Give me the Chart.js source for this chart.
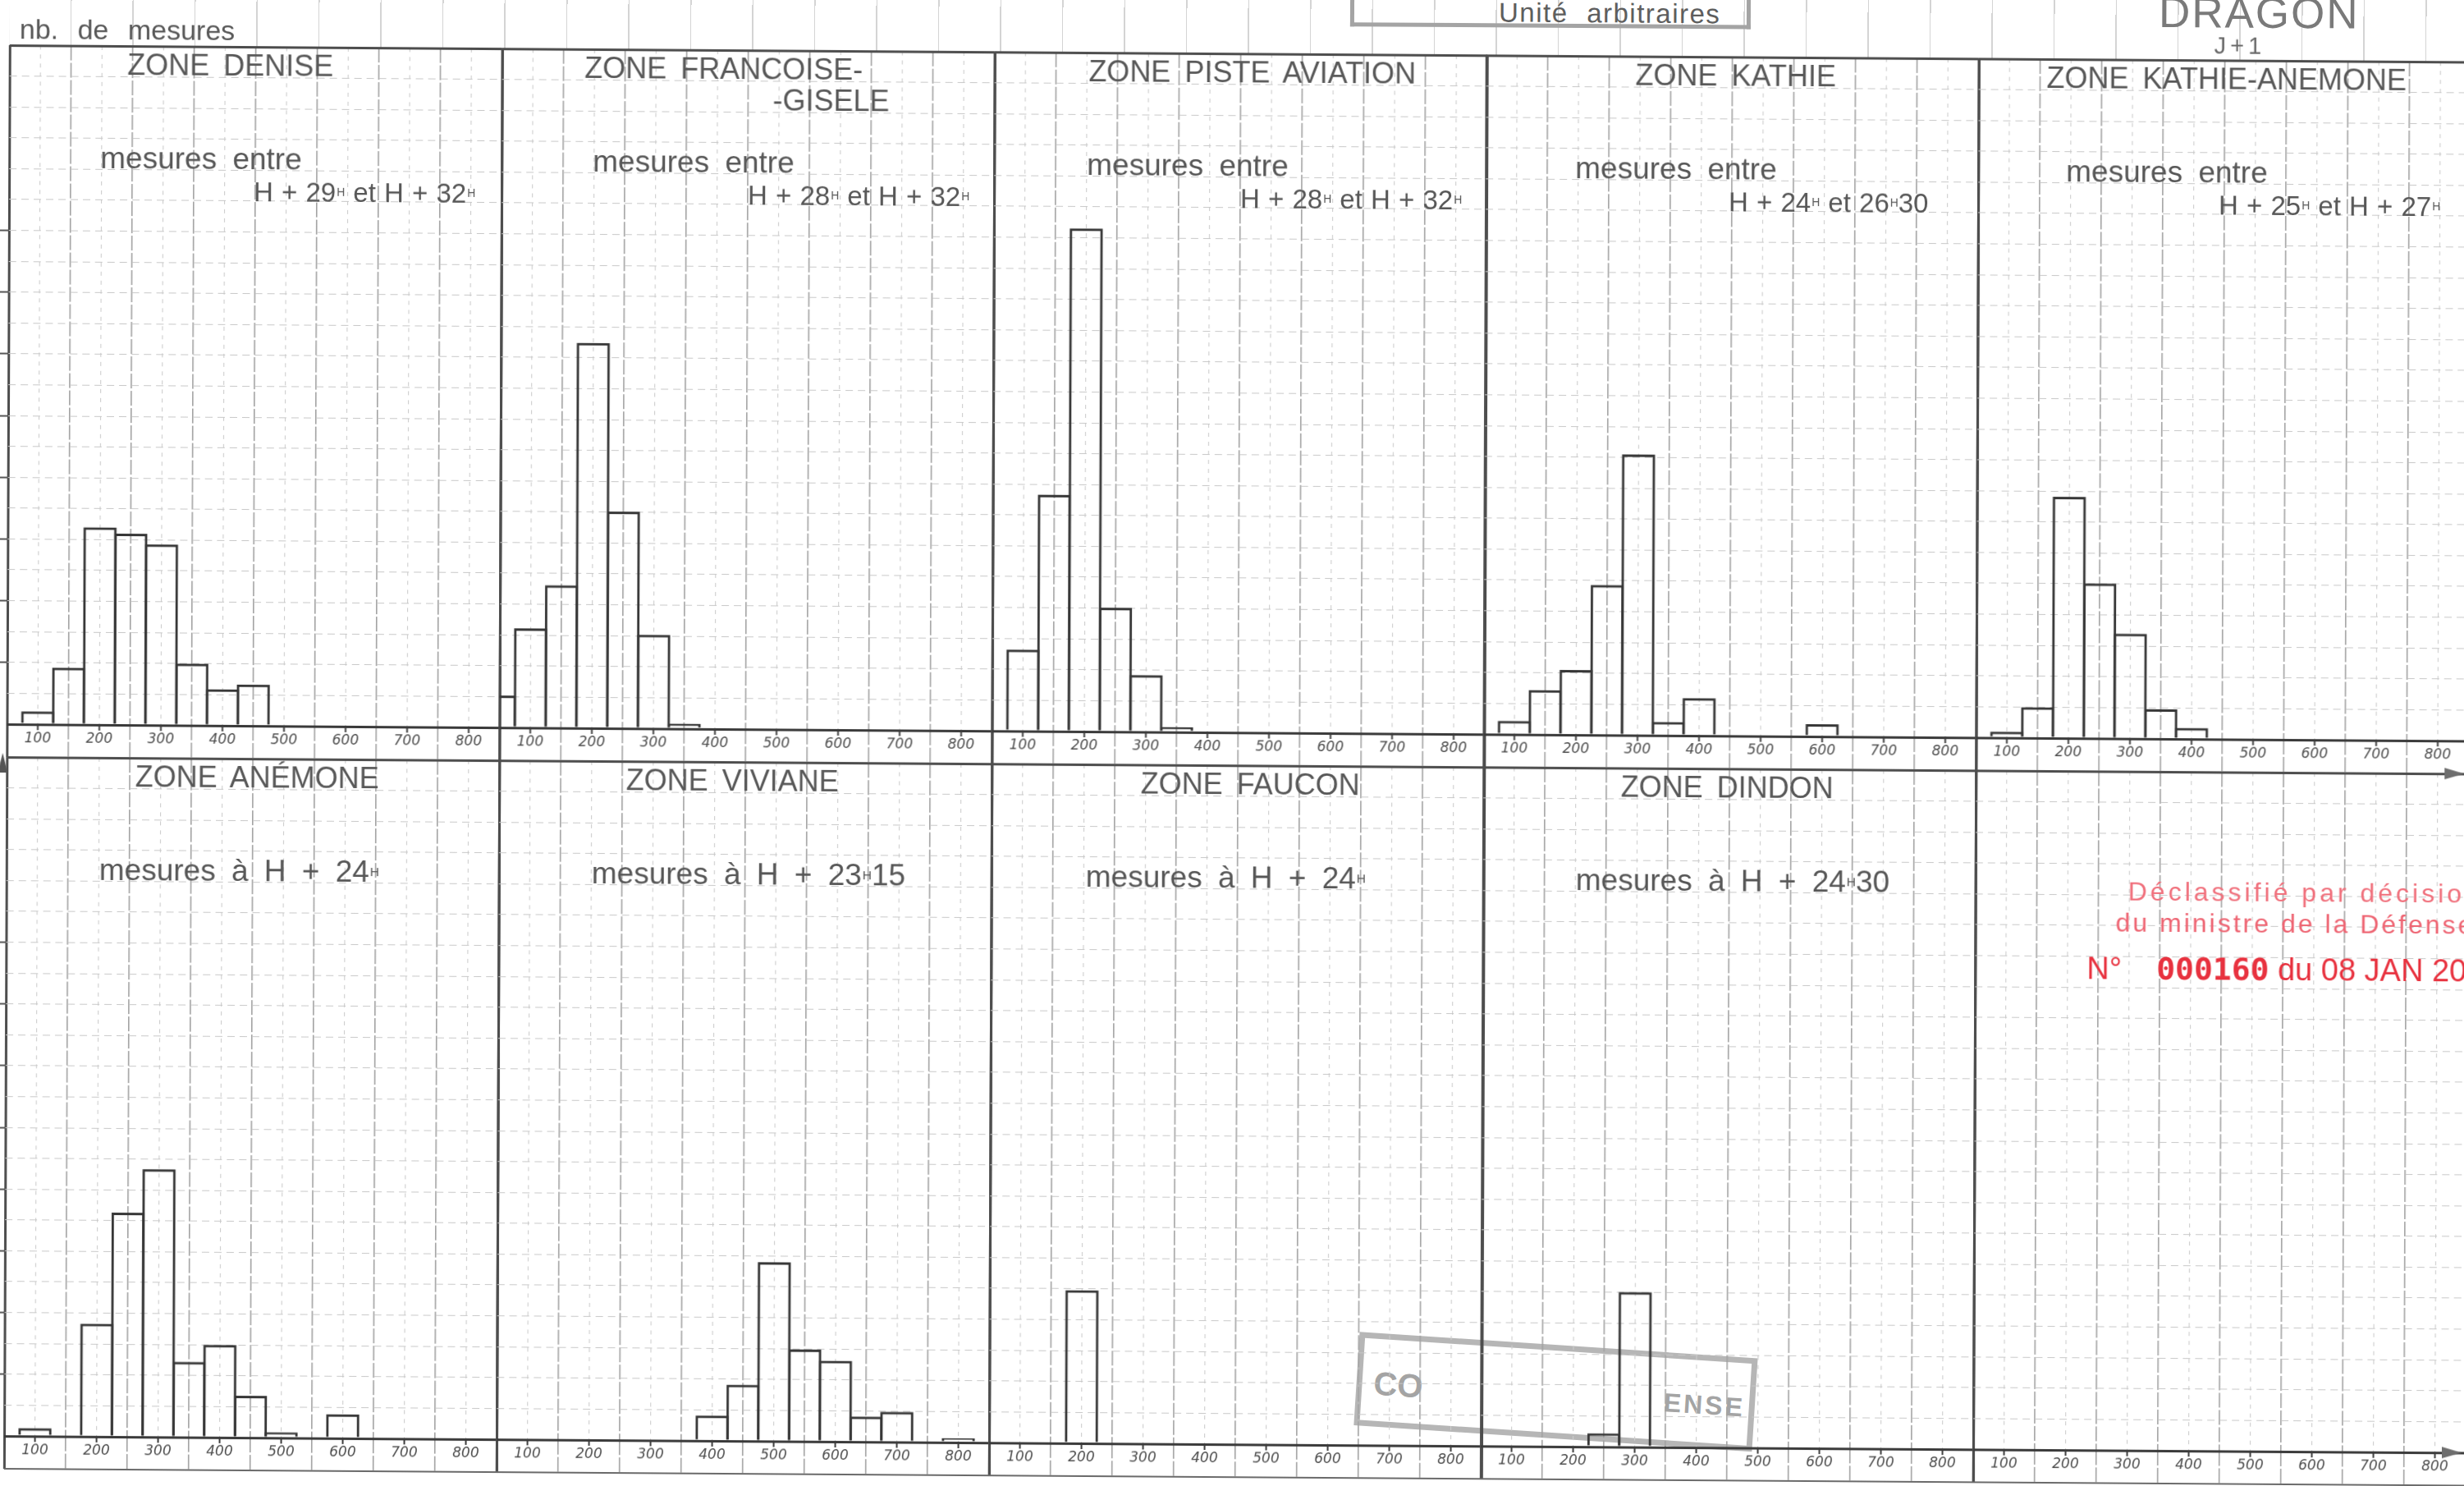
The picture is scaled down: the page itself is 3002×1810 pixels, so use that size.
<!DOCTYPE html>
<html lang="fr">
<head>
<meta charset="utf-8">
<title>DRAGON J+1 – nb. de mesures par zone</title>
<script src="https://cdn.jsdelivr.net/npm/chart.js@4.4.1/dist/chart.umd.min.js"></script>
<style>
html, body { margin:0; padding:0; background:#fff; }
body { width:3002px; height:1810px; overflow:hidden; position:relative; }
#page { position:absolute; left:0; top:0; width:3002px; height:1810px; transform-origin:0 0; transform:matrix(1,0.0068,-0.004,1,0,0); }
.t { position:absolute; white-space:nowrap; font-family:"Liberation Sans", Arial, sans-serif; color:#555; }
canvas { position:absolute; }
.title { font-size:36px; line-height:36px; color:#585858; word-spacing:7px; transform:translateX(-50%); }
.sub1 { font-size:37px; line-height:37px; color:#575757; word-spacing:9px; }
.sub2 { font-size:33px; line-height:33px; color:#575757; word-spacing:1px; }
sup.h { font-size:0.42em; vertical-align:top; margin-left:1px; }
.hdr { font-size:34px; line-height:34px; color:#585858; word-spacing:14px; }
.unit { font-size:33px; line-height:33px; color:#5e5e5e; word-spacing:12px; letter-spacing:1.5px; }
.dragon { font-size:53px; line-height:53px; color:#7a7a7a; letter-spacing:2px; }
.jplus { font-size:29px; line-height:29px; color:#6a6a6a; letter-spacing:5px; transform:translateX(-50%); }
.red1 { font-size:32px; line-height:32px; color:#f0707c; letter-spacing:4px; }
.red2 { font-size:32px; line-height:32px; color:#ee6472; letter-spacing:3px; }
.red3 { font-size:38px; line-height:38px; color:#e8323f; }
.red3 b { font-family:"DejaVu Sans Mono", monospace; font-weight:bold; letter-spacing:0px; font-size:38px; }
.stampTxt { font-weight:bold; color:#a4a4a4; }
</style>
</head>
<body>
<div id="page"></div>
<script>
// ---------------- DATA ----------------
// bin centres (unités arbitraires), histogram bins are 50 wide
const binCenters = [50, 100, 150, 200, 250, 300, 350, 400, 450, 500, 550, 600, 650, 700, 750, 800];
// x tick labels
const xTickValues = [100, 200, 300, 400, 500, 600, 700, 800];
const xTickLabels = ["100", "200", "300", "400", "500", "600", "700", "800"];

// zone titles (categories)
const zoneTitles  = ["ZONE DENISE", "ZONE FRANCOISE-", "ZONE PISTE AVIATION", "ZONE KATHIE", "ZONE KATHIE-ANEMONE",
                     "ZONE ANÉMONE", "ZONE VIVIANE", "ZONE FAUCON", "ZONE DINDON", ""];
const zoneTitles2 = ["", "-GISELE", "", "", "", "", "", "", "", ""];
// measurement time texts (^ = superscript H)
const periodLine1 = ["mesures entre", "mesures entre", "mesures entre", "mesures entre", "mesures entre",
                     "mesures à H + 24^", "mesures à H + 23^15", "mesures à H + 24^", "mesures à H + 24^30", ""];
const periodLine2 = ["H + 29^ et H + 32^", "H + 28^ et H + 32^", "H + 28^ et H + 32^", "H + 24^ et 26^30", "H + 25^ et H + 27^",
                     "", "", "", "", ""];

// nb. de mesures per bin (one value per binCenters entry, null = no bar)
const countsDenise        = [null, 2.1, 9.2, 32.0, 31.0, 29.3, 10.0, 5.9, 6.7, null, null, null, null, null, null, null];
const countsFrancoise     = [5.2, 16.1, 23.1, 62.4, 35.1, 15.2, 0.8, null, null, null, null, null, null, null, null, null];
const countsPisteAviation = [null, 13.2, 38.3, 81.5, 20.1, 9.2, 0.8, null, null, null, null, null, null, null, null, null];
const countsKathie        = [null, 2.2, 7.2, 10.5, 24.3, 45.5, 2.2, 6.1, null, null, null, 2.0, null, null, null, null];
const countsKathieAnemone = [null, 1.0, 5.0, 39.1, 25.1, 17.0, 4.8, 1.8, null, null, null, null, null, null, null, null];
const countsAnemone       = [null, 1.3, null, 18.3, 36.3, 43.4, 12.2, 15.0, 6.8, 0.9, null, 3.9, null, null, null, null];
const countsViviane       = [null, null, null, null, null, null, null, 4.1, 9.1, 29.0, 14.9, 13.1, 4.1, 4.9, null, 0.7];
const countsFaucon        = [null, null, null, 24.8, null, null, null, null, null, null, null, null, null, null, null, null];
const countsDindon        = [null, null, null, null, 2.2, 25.1, null, null, null, null, null, null, null, null, null, null];
const countsEmpty         = [null, null, null, null, null, null, null, null, null, null, null, null, null, null, null, null];

const zoneCounts = [countsDenise, countsFrancoise, countsPisteAviation, countsKathie, countsKathieAnemone,
                    countsAnemone, countsViviane, countsFaucon, countsDindon, countsEmpty];

// ---------------- LAYOUT ----------------
const COL_LEFT = [12, 612, 1212, 1811, 2411];
const ROW_TOP = [55, 922];
const PLOT_W = 600, PLOT_H = 827, STRIP_H = 40, PAD = 4;
const TITLE_CX = [269, 270, 314, 304, 302, 305, 284, 315, 297, 0];
const SUB1_X = [111, 111, 113, 109, 107, 113, 113, 115, 113, 0];
const SUB2_X = [298, 300, 300, 296, 293];

const page = document.getElementById('page');
function addText(cls, html, left, top, style) {
  const d = document.createElement('div');
  d.className = 't ' + cls;
  d.innerHTML = html;
  d.style.left = left + 'px';
  d.style.top = top + 'px';
  if (style) Object.assign(d.style, style);
  page.appendChild(d);
  return d;
}
function addBox(style) {
  const d = document.createElement('div');
  d.style.position = 'absolute';
  Object.assign(d.style, style);
  page.appendChild(d);
  return d;
}
const fmt = s => s.replace(/\^/g, '<sup class="h">H</sup>');

// faint paper grid above the frame
addBox({left: '12px', top: '-40px', width: '2995px', height: '95px',
  backgroundImage: 'repeating-linear-gradient(to right, transparent 0px, transparent 74px, #d4d4d4 74px, #d4d4d4 75.5px)'});

// grey (erased) stamp box
const stamp = addBox({left: '1663px', top: '1611px', width: '472px', height: '100px',
  border: '7px solid #b6b6b6', transformOrigin: '0 0', transform: 'rotate(3.4deg)'});
const s1 = document.createElement('div'); s1.className = 't stampTxt'; s1.textContent = 'CO';
Object.assign(s1.style, {left: '14px', top: '34px', fontSize: '40px', lineHeight: '40px'}); stamp.appendChild(s1);
const s2 = document.createElement('div'); s2.className = 't stampTxt'; s2.textContent = 'ENSE';
Object.assign(s2.style, {left: '368px', top: '38px', fontSize: '32px', lineHeight: '32px', letterSpacing: '3px'}); stamp.appendChild(s2);

// ---------------- CHART STYLES ----------------
function xLine(v) {
  if (v === 50 || v === 850) return {color: '#4d4d4d', width: 3, dash: []};
  if (v % 100 === 50) return {color: '#a2a2a2', width: 1.6, dash: [18, 3]};
  return {color: '#cdcdcd', width: 1.1, dash: [5, 6]};
}
function yLine(v) {
  if (v === 0) return {color: '#3a3a3a', width: 3, dash: []};
  if (v === 110) return {color: '#4d4d4d', width: 3, dash: []};
  return {color: '#c8c8c8', width: 1.1, dash: [9, 6]};
}
const isHundred = v => v % 100 === 0;
const tv = c => (c && c.tick) ? c.tick.value : null;

for (let k = 0; k < 10; k++) {
  const row = k < 5 ? 0 : 1, col = k % 5;
  const padL = col === 0 ? COL_LEFT[0] : PAD;
  const cv = document.createElement('canvas');
  cv.width = padL + PLOT_W + PAD;
  cv.height = PAD + PLOT_H + STRIP_H;
  cv.style.left = (COL_LEFT[col] - padL) + 'px';
  cv.style.top = (ROW_TOP[row] - PAD) + 'px';
  page.appendChild(cv);

  const pts = [];
  zoneCounts[k].forEach((v, i) => { if (v !== null) pts.push({x: binCenters[i], y: v}); });

  new Chart(cv.getContext('2d'), {
    type: 'bar',
    data: {datasets: [{
      label: zoneTitles[k] + zoneTitles2[k],
      data: pts,
      backgroundColor: 'rgba(0,0,0,0)',
      borderColor: '#363636',
      borderWidth: 3,
      borderSkipped: 'start',
      barPercentage: 1.08,
      categoryPercentage: 1,
      inflateAmount: 0,
      clip: 0
    }]},
    options: {
      responsive: false,
      animation: false,
      events: [],
      layout: {padding: {left: padL, right: PAD, top: PAD, bottom: 0}},
      plugins: {legend: {display: false}, tooltip: {enabled: false}, title: {display: false}},
      scales: {
        x: {
          type: 'linear', min: 50, max: 850, offset: false,
          afterFit: s => { s.height = STRIP_H; },
          border: {display: false, dash: c => { const v = tv(c); return v === null ? [] : xLine(v).dash; }},
          grid: {
            offset: false, drawTicks: true, tickLength: 41,
            color: c => xLine(tv(c)).color,
            lineWidth: c => xLine(tv(c)).width,
            tickColor: c => { const v = tv(c); return isHundred(v) ? '#3a3a3a' : xLine(v).color; },
            tickWidth: c => { const v = tv(c); return isHundred(v) ? 2 : xLine(v).width; },
            tickBorderDash: c => { const v = tv(c); return isHundred(v) ? [7, 200] : xLine(v).dash; }
          },
          ticks: {
            stepSize: 50, autoSkip: false, maxRotation: 0, minRotation: 0, padding: -34,
            color: '#4e4e4e',
            font: {family: '"DejaVu Sans", sans-serif', style: 'italic', size: 17},
            callback: v => { const i = xTickValues.indexOf(v); return i >= 0 ? xTickLabels[i] : ''; }
          }
        },
        y: {
          type: 'linear', min: 0, max: 110,
          afterFit: s => { s.width = 0; },
          border: {display: false, dash: c => { const v = tv(c); return v === null ? [] : yLine(v).dash; }},
          grid: {
            drawTicks: col === 0, tickLength: 11,
            color: c => yLine(tv(c)).color,
            lineWidth: c => yLine(tv(c)).width,
            tickColor: c => { const v = tv(c); return (v >= 10 && v <= 80 && v % 10 === 0) ? '#555' : 'rgba(0,0,0,0)'; },
            tickWidth: 2
          },
          ticks: {display: false, stepSize: 5}
        }
      }
    }
  });
}

// ---------------- TEXTS ----------------
for (let k = 0; k < 9; k++) {
  const row = k < 5 ? 0 : 1, col = k % 5;
  const L = COL_LEFT[col], T = ROW_TOP[row];
  addText('title', zoneTitles[k], L + TITLE_CX[k], T + 5.3);
  if (zoneTitles2[k]) addText('title', zoneTitles2[k], L + 401, T + 42.7);
  addText('sub1', fmt(periodLine1[k]), L + SUB1_X[k], T + 118.2);
  if (periodLine2[k]) addText('sub2', fmt(periodLine2[k]), L + SUB2_X[col], T + 159.9);
}

// header texts
addText('hdr', 'nb. de mesures', 24, 18);
addBox({left: '1645px', top: '-40px', width: '478px', height: '56px',
  borderLeft: '5px solid #a4a4a4', borderRight: '5px solid #a4a4a4', borderBottom: '5px solid #a4a4a4'});
addText('unit', 'Unité arbitraires', 1826, -14);
addText('dragon', 'DRAGON', 2630, -30);
addText('jplus', 'J+1', 2729, 23);

// arrows
addBox({left: '2982px', top: '915px', width: '0', height: '0',
  borderLeft: '24px solid #6e6e6e', borderTop: '7px solid transparent', borderBottom: '7px solid transparent'});
addBox({left: '2982px', top: '1742px', width: '0', height: '0',
  borderLeft: '24px solid #6e6e6e', borderTop: '7px solid transparent', borderBottom: '7px solid transparent'});
addBox({left: '1px', top: '917px', width: '0', height: '0',
  borderBottom: '24px solid #555', borderLeft: '6px solid transparent', borderRight: '6px solid transparent'});
// bottom frame line
addBox({left: '12px', top: '1788px', width: '3000px', height: '2px', background: '#6a6a6a'});

// red declassification stamp
addText('red1', 'Déclassifié par décision', 2597, 1052);
addText('red2', 'du ministre de la Défense', 2582, 1090);
addText('red3', 'N°&nbsp;&nbsp;&nbsp;&nbsp;<b>000160</b> du 08 JAN 2013', 2547, 1143);
</script>
</body>
</html>
